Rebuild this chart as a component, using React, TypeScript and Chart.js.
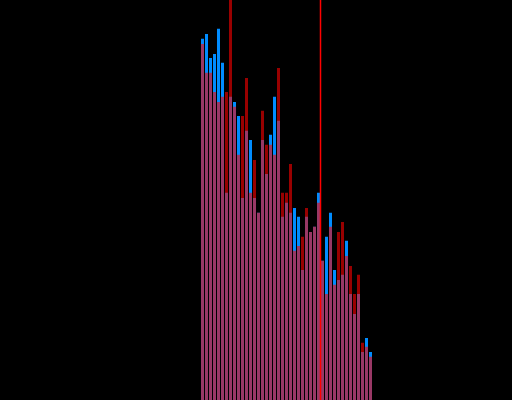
import React, { useEffect, useRef } from "react";
import { Chart, registerables } from "chart.js";

Chart.register(...registerables);

const categories: string[] = Array.from({ length: 43 }, (_, i) => `C${i + 1}`);

const blueValues: number[] = [
  90.3, 91.5, 85.5, 86.5, 92.8, 84.3, 51.8, 75.8, 74.5, 71.0,
  50.5, 67.3, 65.0, 50.5, 46.8, 65.0, 56.5, 66.3, 75.8, 69.8,
  45.8, 49.3, 46.8, 48.0, 45.8, 32.5, 45.8, 42.0, 43.3, 51.8,
  34.8, 40.8, 46.8, 32.5, 30.0, 31.3, 39.8, 26.5, 21.5, 26.5,
  12.0, 15.5, 12.0,
];

const redValues: number[] = [
  89.0, 81.8, 81.8, 77.0, 74.5, 75.8, 77.0, 104.0, 73.3, 61.3,
  71.0, 80.5, 51.8, 60.0, 46.8, 72.3, 63.8, 63.8, 61.3, 83.0,
  51.8, 51.8, 59.0, 37.3, 38.5, 40.8, 48.0, 42.0, 43.3, 49.3,
  34.8, 26.5, 43.3, 28.8, 42.0, 44.5, 36.0, 33.5, 26.5, 31.3,
  14.3, 13.3, 10.8,
];

// marker line drawn between these two categories
const markerBetween: [number, number] = [29, 30];

const markerPlugin = {
  id: "markerLine",
  afterDatasetsDraw(chart: any) {
    const x = chart.scales.x;
    const area = chart.chartArea;
    const px = (x.getPixelForValue(markerBetween[0]) + x.getPixelForValue(markerBetween[1])) / 2;
    const ctx = chart.ctx;
    ctx.save();
    ctx.strokeStyle = "#ff0000";
    ctx.lineWidth = 1.5;
    ctx.beginPath();
    ctx.moveTo(px, area.top);
    ctx.lineTo(px, area.bottom);
    ctx.stroke();
    ctx.restore();
  },
};

export default function App() {
  const ref = useRef<HTMLCanvasElement | null>(null);

  useEffect(() => {
    document.body.style.margin = "0";
    document.body.style.background = "#000";
    if (!ref.current) return;
    const chart = new Chart(ref.current, {
      type: "bar",
      data: {
        labels: categories,
        datasets: [
          {
            label: "A",
            data: blueValues,
            backgroundColor: "#008cff",
            borderWidth: 0,
            order: 2,
          },
          {
            label: "B",
            data: redValues,
            backgroundColor: "rgba(255,0,0,0.6)",
            borderWidth: 0,
            order: 1,
          },
        ],
      },
      options: {
        animation: false,
        responsive: false,
        maintainAspectRatio: false,
        layout: { padding: { left: 200.5, right: 139.5, top: 0, bottom: 0 } },
        datasets: { bar: { grouped: false, barPercentage: 0.75, categoryPercentage: 1 } },
        plugins: { legend: { display: false }, tooltip: { enabled: false } },
        scales: {
          x: { display: false },
          y: { display: false, min: 0, max: 100 },
        },
      },
      plugins: [markerPlugin],
    });
    return () => chart.destroy();
  }, []);

  return (
    <div style={{ position: "fixed", left: 0, top: 0, width: 512, height: 400, background: "#000" }}>
      <canvas ref={ref} width={512} height={400} style={{ display: "block", width: 512, height: 400 }} />
    </div>
  );
}
